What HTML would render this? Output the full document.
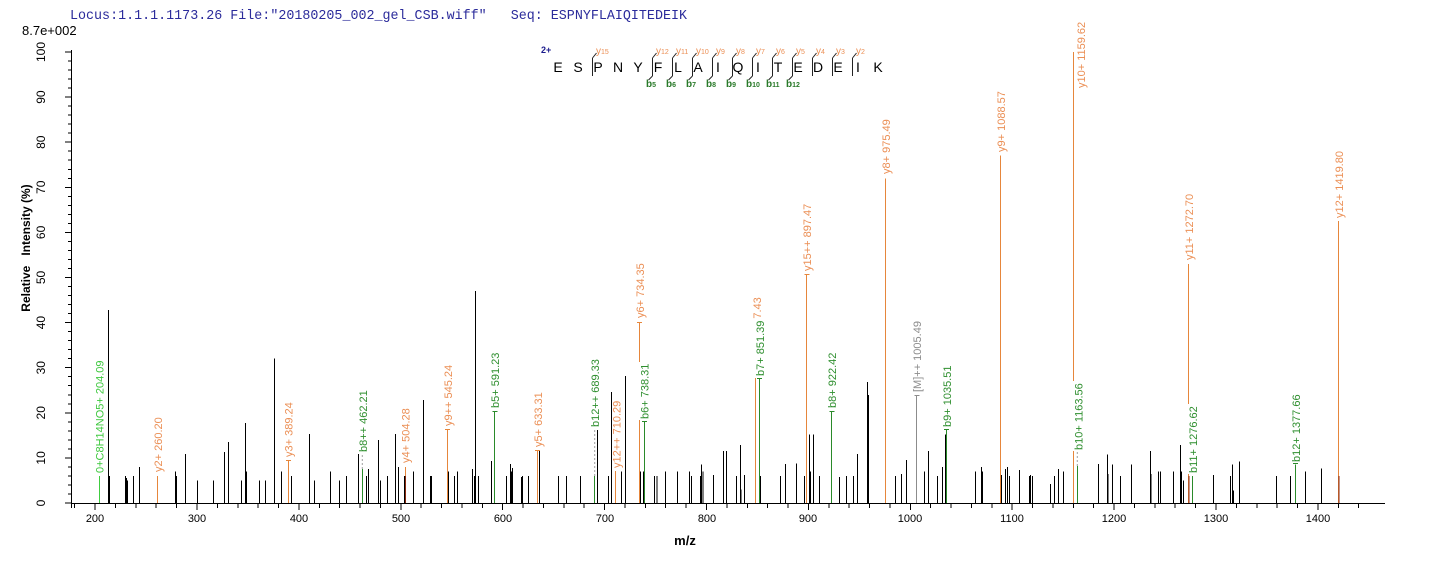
<!DOCTYPE html>
<html><head><meta charset="utf-8"><style>
html,body{margin:0;padding:0;background:#fff;}
svg{display:block;}
.lbl{font-family:"Liberation Sans",Arial,sans-serif;font-size:11px;}
</style></head><body>
<svg width="1436" height="562" viewBox="0 0 1436 562" xmlns="http://www.w3.org/2000/svg" font-family="Liberation Sans, Arial, sans-serif">
<rect width="1436" height="562" fill="#fff"/>
<!-- header -->
<text x="70" y="19" font-family="Liberation Mono, monospace" font-size="14" fill="#2b2b9b" style="white-space:pre" xml:space="preserve" textLength="617" lengthAdjust="spacingAndGlyphs">Locus:1.1.1.1173.26 File:"20180205_002_gel_CSB.wiff"   Seq: ESPNYFLAIQITEDEIK</text>
<text x="22" y="35" font-size="13" fill="#000">8.7e+002</text>

<!-- y axis -->
<g stroke="#000" stroke-width="1" shape-rendering="crispEdges" fill="none">
<path d="M71.5 50V508M71 503.5H1385"/>
<path d="M65 503H71.5M65 457.9H71.5M65 412.8H71.5M65 367.7H71.5M65 322.6H71.5M65 277.5H71.5M65 232.4H71.5M65 187.3H71.5M65 142.2H71.5M65 97.1H71.5M65 52H71.5"/>
<path d="M68 494H71.5M68 485H71.5M68 475.9H71.5M68 466.9H71.5M68 448.9H71.5M68 439.9H71.5M68 430.8H71.5M68 421.8H71.5M68 403.8H71.5M68 394.8H71.5M68 385.7H71.5M68 376.7H71.5M68 358.7H71.5M68 349.7H71.5M68 340.6H71.5M68 331.6H71.5M68 313.6H71.5M68 304.6H71.5M68 295.5H71.5M68 286.5H71.5M68 268.5H71.5M68 259.5H71.5M68 250.4H71.5M68 241.4H71.5M68 223.4H71.5M68 214.4H71.5M68 205.3H71.5M68 196.3H71.5M68 178.3H71.5M68 169.3H71.5M68 160.2H71.5M68 151.2H71.5M68 133.2H71.5M68 124.2H71.5M68 115.1H71.5M68 106.1H71.5M68 88.1H71.5M68 79.1H71.5M68 70H71.5M68 61H71.5"/>
<!-- x ticks -->
<path d="M95.1 503V510M197 503V510M298.9 503V510M400.8 503V510M502.7 503V510M604.6 503V510M706.5 503V510M808.4 503V510M910.3 503V510M1012.2 503V510M1114.1 503V510M1216 503V510M1317.9 503V510"/>
<path d="M74.7 503V508M115.5 503V508M135.9 503V508M156.2 503V508M176.6 503V508M217.4 503V508M237.8 503V508M258.1 503V508M278.5 503V508M319.3 503V508M339.7 503V508M360 503V508M380.4 503V508M421.2 503V508M441.6 503V508M461.9 503V508M482.3 503V508M523.1 503V508M543.5 503V508M563.8 503V508M584.2 503V508M625 503V508M645.4 503V508M665.7 503V508M686.1 503V508M726.9 503V508M747.3 503V508M767.6 503V508M788 503V508M828.8 503V508M849.2 503V508M869.5 503V508M889.9 503V508M930.7 503V508M951.1 503V508M971.4 503V508M991.8 503V508M1032.6 503V508M1053 503V508M1073.3 503V508M1093.7 503V508M1134.5 503V508M1154.9 503V508M1175.2 503V508M1195.6 503V508M1236.4 503V508M1256.8 503V508M1277.1 503V508M1297.5 503V508M1338.3 503V508M1358.7 503V508"/>
</g>
<g font-size="12" fill="#000" text-anchor="middle" dominant-baseline="central">
<text transform="translate(41,503) rotate(-90)">0</text>
<text transform="translate(41,457.9) rotate(-90)">10</text>
<text transform="translate(41,412.8) rotate(-90)">20</text>
<text transform="translate(41,367.7) rotate(-90)">30</text>
<text transform="translate(41,322.6) rotate(-90)">40</text>
<text transform="translate(41,277.5) rotate(-90)">50</text>
<text transform="translate(41,232.4) rotate(-90)">60</text>
<text transform="translate(41,187.3) rotate(-90)">70</text>
<text transform="translate(41,142.2) rotate(-90)">80</text>
<text transform="translate(41,97.1) rotate(-90)">90</text>
<text transform="translate(41,52) rotate(-90)">100</text>
</g>
<text transform="translate(26,248) rotate(-90)" font-size="12" font-weight="bold" text-anchor="middle" dominant-baseline="central" style="white-space:pre" xml:space="preserve">Relative   Intensity (%)</text>
<g font-size="11" fill="#000" text-anchor="middle">
<text x="95" y="522">200</text><text x="197" y="522">300</text><text x="299" y="522">400</text><text x="401" y="522">500</text><text x="503" y="522">600</text><text x="605" y="522">700</text><text x="707" y="522">800</text><text x="808" y="522">900</text><text x="910" y="522">1000</text><text x="1012" y="522">1100</text><text x="1114" y="522">1200</text><text x="1216" y="522">1300</text><text x="1318" y="522">1400</text>
</g>
<text x="685" y="545" font-size="13" font-weight="bold" text-anchor="middle">m/z</text>

<!-- black peaks -->
<path stroke="#000" stroke-width="1" fill="none" shape-rendering="crispEdges" d="M108.3 503V309.8M109.3 503V475.9M125.3 503V475.9M126.3 503V478.2M127.3 503V480.5M133.3 503V475.9M139.3 503V466.9M175.3 503V471.4M176.3 503V475.9M185.3 503V453.8M197.3 503V480.5M213.3 503V480.5M224.3 503V452M228.3 503V442.1M241.3 503V480.5M245.3 503V423.2M246.3 503V471.4M259.3 503V480.5M265.3 503V480.5M274.3 503V358.7M281.3 503V471.4M291.3 503V475.9M309.3 503V434M314.7 503V480.5M330.3 503V471.4M339.3 503V480.5M346.3 503V475.9M358.3 503V453.8M366.3 503V475.9M368.3 503V469.2M378.3 503V439.9M380.3 503V480.5M387.3 503V475.9M395.3 503V434M398.3 503V466.9M404.3 503V475.9M413.3 503V471.4M423.3 503V400.2M430.3 503V475.9M431.3 503V475.9M448.3 503V471.4M454.3 503V475.9M457.3 503V471.4M472.7 503V469.2M474.7 503V475.9M475.7 503V291M478.7 503V475.9M491.7 503V461.1M506.7 503V475.9M510.7 503V464.2M511.7 503V471.4M512.3 503V467.8M521.3 503V476.8M522.3 503V475.9M528.7 503V475.9M539.3 503V451.1M558.3 503V475.9M566.3 503V475.9M580.3 503V475.9M597.3 503V429.9M608.3 503V475.9M611.3 503V392.1M621.3 503V471.4M625.3 503V375.8M640.7 503V471.4M643.3 503V471.4M654.3 503V475.9M657 503V475.9M665.3 503V471.4M677.3 503V471.4M689.3 503V471.4M691.3 503V475.9M700.3 503V475.9M701.3 503V464.7M703 503V471.4M713.3 503V475M723.7 503V451.1M726.3 503V451.1M736.3 503V475.9M740.3 503V444.8M741 503V489.5M744.3 503V475M760.3 503V475.9M780.3 503V475.9M785.3 503V464.2M796.3 503V463.3M804.3 503V475.9M809.3 503V434.4M810.3 503V471.4M813.3 503V434.4M819.3 503V475.9M839.3 503V476.8M846.3 503V475.9M853.3 503V475.9M857.3 503V453.8M867.3 503V382.1M868.3 503V394.8M895.3 503V475.9M901.3 503V474.1M906.3 503V460.2M924.3 503V471.4M928.7 503V451.1M937.3 503V475.9M942.3 503V466.9M945.3 503V434.4M975.7 503V471.4M981.3 503V466.9M982.3 503V471.4M1001.3 503V475M1005.3 503V469.2M1007.3 503V466.9M1009.3 503V475.9M1019.3 503V470.1M1029.3 503V475.9M1030.3 503V475M1032.3 503V475.9M1050.3 503V484.1M1054.3 503V475.9M1058.3 503V469.2M1063.3 503V471.4M1073.7 503V454.3M1098.3 503V464.2M1107.3 503V454.3M1108 503V474.1M1112.3 503V464.7M1120.3 503V475.9M1131.3 503V464.7M1150.3 503V451.1M1151 503V474.1M1158.3 503V471.4M1160.3 503V471.4M1173.3 503V471.4M1180.3 503V444.8M1181.3 503V471.4M1183.3 503V480.5M1213.3 503V475M1230.3 503V475.9M1232.3 503V464.7M1233.3 503V490.4M1239.3 503V461.5M1276.3 503V475.9M1290.3 503V475.9M1305.3 503V471.4M1321.7 503V468.7"/>

<!-- orange (y ion) peaks -->
<path stroke="#e6863b" stroke-width="1" fill="none" shape-rendering="crispEdges" d="M157.3 503V475.9M288.3 503V461.1M405.3 503V466.9M447.3 503V429.9M537.3 503V451.1M615.3 503V471M639.3 503V322.6M755.3 503V378.1M806.7 503V275.2M885.3 503V178.3M1000.7 503V155.7M1073.3 503V52M1188.3 503V264M1338.7 503V221.1"/>
<!-- dark red overlap segments -->
<path stroke="#8a2a10" stroke-width="1" fill="none" shape-rendering="crispEdges" d="M405.3 503V475.9M1188.8 503V476M1339.2 503V476"/>
<!-- green (b ion) peaks -->
<path stroke="#2a8a2a" stroke-width="1" fill="none" shape-rendering="crispEdges" d="M362.3 503V469.2M494.7 503V411.9M594.7 503V475.9M644.3 503V421.8M759.3 503V379M831.7 503V411.9M946.3 503V429.9M1077.3 503V466M1192.3 503V475.9M1295.3 503V464.7"/>
<path stroke="#40cc40" stroke-width="1" fill="none" shape-rendering="crispEdges" d="M99.3 503V475.9"/>
<path stroke="#8c8c8c" stroke-width="1" fill="none" shape-rendering="crispEdges" d="M916.7 503V396.1"/>
<!-- dashed connectors -->
<path stroke="#a0a0a0" stroke-width="1" stroke-dasharray="2,2" fill="none" d="M362.3 469V453M594.7 476V428M1077.3 466V451"/>

<!-- labels -->
<g class="lbl" dominant-baseline="central">
<g transform="translate(100.5,473) rotate(-90)"><rect x="-1" y="-7" width="115" height="14" fill="#fff"/><text fill="#3ec83e">0+C8H14NO5+ 204.09</text></g>
<g transform="translate(159,472) rotate(-90)"><rect x="-1" y="-7" width="57" height="14" fill="#fff"/><text fill="#eb8f55">y2+ 260.20</text></g>
<g transform="translate(289.5,457) rotate(-90)"><rect x="-1" y="-7" width="57" height="14" fill="#fff"/><text fill="#eb8f55">y3+ 389.24</text></g>
<g transform="translate(364,452) rotate(-90)"><rect x="-1" y="-7" width="64" height="14" fill="#fff"/><text fill="#2f8f2f">b8++ 462.21</text></g>
<g transform="translate(406.5,463) rotate(-90)"><rect x="-1" y="-7" width="57" height="14" fill="#fff"/><text fill="#eb8f55">y4+ 504.28</text></g>
<g transform="translate(449,426) rotate(-90)"><rect x="-1" y="-7" width="63" height="14" fill="#fff"/><text fill="#eb8f55">y9++ 545.24</text></g>
<g transform="translate(496,408) rotate(-90)"><rect x="-1" y="-7" width="58" height="14" fill="#fff"/><text fill="#2f8f2f">b5+ 591.23</text></g>
<g transform="translate(539,447) rotate(-90)"><rect x="-1" y="-7" width="57" height="14" fill="#fff"/><text fill="#eb8f55">y5+ 633.31</text></g>
<g transform="translate(596,427) rotate(-90)"><rect x="-1" y="-6" width="70" height="12" fill="#fff"/><text fill="#2f8f2f">b12++ 689.33</text></g>
<g transform="translate(617.5,468) rotate(-90)"><rect x="-1" y="-5" width="69" height="11" fill="#fff"/><text fill="#eb8f55">y12++ 710.29</text></g>
<g transform="translate(641,318) rotate(-90)"><rect x="-1" y="-7" width="57" height="14" fill="#fff"/><text fill="#eb8f55">y6+ 734.35</text></g>
<g transform="translate(645.5,419) rotate(-90)"><rect x="-1" y="-7" width="58" height="14" fill="#fff"/><text fill="#2f8f2f">b6+ 738.31</text></g>
<g transform="translate(758,352) rotate(-90)"><rect x="-1" y="-7" width="57" height="14" fill="#fff"/><text fill="#eb8f55">y7+ 847.43</text></g>
<g transform="translate(761,376) rotate(-90)"><rect x="-1" y="-8" width="58" height="16" fill="#fff"/><text fill="#2f8f2f">b7+ 851.39</text></g>
<g transform="translate(808,271) rotate(-90)"><rect x="-1" y="-7" width="69" height="14" fill="#fff"/><text fill="#eb8f55">y15++ 897.47</text></g>
<g transform="translate(833,408) rotate(-90)"><rect x="-1" y="-7" width="58" height="14" fill="#fff"/><text fill="#2f8f2f">b8+ 922.42</text></g>
<g transform="translate(887,174) rotate(-90)"><rect x="-1" y="-7" width="57" height="14" fill="#fff"/><text fill="#eb8f55">y8+ 975.49</text></g>
<g transform="translate(918,392) rotate(-90)"><rect x="-1" y="-7" width="73" height="14" fill="#fff"/><text fill="#8c8c8c">[M]++ 1005.49</text></g>
<g transform="translate(948,427) rotate(-90)"><rect x="-1" y="-7" width="64" height="14" fill="#fff"/><text fill="#2f8f2f">b9+ 1035.51</text></g>
<g transform="translate(1002,152) rotate(-90)"><rect x="-1" y="-7" width="63" height="14" fill="#fff"/><text fill="#eb8f55">y9+ 1088.57</text></g>
<g transform="translate(1082,88) rotate(-90)"><rect x="-1" y="-6" width="69" height="12" fill="#fff"/><text fill="#eb8f55">y10+ 1159.62</text></g>
<g transform="translate(1079.5,450) rotate(-90)"><rect x="-1" y="-7" width="70" height="14" fill="#fff"/><text fill="#2f8f2f">b10+ 1163.56</text></g>
<g transform="translate(1190,260) rotate(-90)"><rect x="-1" y="-7" width="69" height="14" fill="#fff"/><text fill="#eb8f55">y11+ 1272.70</text></g>
<g transform="translate(1194,473) rotate(-90)"><rect x="-1" y="-7" width="70" height="14" fill="#fff"/><text fill="#2f8f2f">b11+ 1276.62</text></g>
<g transform="translate(1297,462) rotate(-90)"><rect x="-1" y="-7" width="70" height="14" fill="#fff"/><text fill="#2f8f2f">b12+ 1377.66</text></g>
<g transform="translate(1340,218) rotate(-90)"><rect x="-1" y="-7" width="69" height="14" fill="#fff"/><text fill="#eb8f55">y12+ 1419.80</text></g>
</g>
<!-- peak-top dashes -->
<path stroke-width="1" fill="none" shape-rendering="crispEdges" stroke="#2a8a2a" d="M492.5 411.5H497.5M829.5 411.5H834.5M944 429.5H949M757 378.5H762M642 421.5H647M1293 463.5H1298"/>
<path stroke-width="1" fill="none" shape-rendering="crispEdges" stroke="#e6863b" d="M804.5 274.5H809.5M445 429.5H450M286 460.5H291M535 450.5H540M637 322.5H642"/>
<path stroke-width="1" fill="none" shape-rendering="crispEdges" stroke="#8c8c8c" d="M914.5 395.5H919.5"/>

<!-- sequence annotation -->
<text x="541" y="53" font-size="9" font-weight="bold" fill="#1a1a8c">2+</text>
<g font-size="14" fill="#000" text-anchor="middle">
<text x="558" y="72">E</text><text x="578" y="72">S</text><text x="598" y="72">P</text><text x="618" y="72">N</text><text x="638" y="72">Y</text><text x="658" y="72">F</text><text x="678" y="72">L</text><text x="698" y="72">A</text><text x="718" y="72">I</text><text x="738" y="72">Q</text><text x="758" y="72">I</text><text x="778" y="72">T</text><text x="798" y="72">E</text><text x="818" y="72">D</text><text x="838" y="72">E</text><text x="858" y="72">I</text><text x="878" y="72">K</text>
</g>
<g stroke="#222" stroke-width="1" fill="none">
<path d="M592.5 58V76M592.5 58L596.5 53"/>
<path d="M652.5 58V76M652.5 58L656.5 53M652.5 76L648.5 80"/>
<path d="M672.5 58V76M672.5 58L676.5 53M672.5 76L668.5 80"/>
<path d="M692.5 58V76M692.5 58L696.5 53M692.5 76L688.5 80"/>
<path d="M712.5 58V76M712.5 58L716.5 53M712.5 76L708.5 80"/>
<path d="M732.5 58V76M732.5 58L736.5 53M732.5 76L728.5 80"/>
<path d="M752.5 58V76M752.5 58L756.5 53M752.5 76L748.5 80"/>
<path d="M772.5 58V76M772.5 58L776.5 53M772.5 76L768.5 80"/>
<path d="M792.5 58V76M792.5 58L796.5 53M792.5 76L788.5 80"/>
<path d="M812.5 58V76M812.5 58L816.5 53"/>
<path d="M832.5 58V76M832.5 58L836.5 53"/>
<path d="M852.5 58V76M852.5 58L856.5 53"/>
</g>
<g font-size="10" fill="#eb8f55">
<text x="596" y="54">y<tspan font-size="7">15</tspan></text>
<text x="656" y="54">y<tspan font-size="7">12</tspan></text>
<text x="676" y="54">y<tspan font-size="7">11</tspan></text>
<text x="696" y="54">y<tspan font-size="7">10</tspan></text>
<text x="716" y="54">y<tspan font-size="7">9</tspan></text>
<text x="736" y="54">y<tspan font-size="7">8</tspan></text>
<text x="756" y="54">y<tspan font-size="7">7</tspan></text>
<text x="776" y="54">y<tspan font-size="7">6</tspan></text>
<text x="796" y="54">y<tspan font-size="7">5</tspan></text>
<text x="816" y="54">y<tspan font-size="7">4</tspan></text>
<text x="836" y="54">y<tspan font-size="7">3</tspan></text>
<text x="856" y="54">y<tspan font-size="7">2</tspan></text>
</g>
<g font-size="10" fill="#2a7a2a" font-weight="bold">
<text x="646" y="87">b<tspan font-size="7">5</tspan></text>
<text x="666" y="87">b<tspan font-size="7">6</tspan></text>
<text x="686" y="87">b<tspan font-size="7">7</tspan></text>
<text x="706" y="87">b<tspan font-size="7">8</tspan></text>
<text x="726" y="87">b<tspan font-size="7">9</tspan></text>
<text x="746" y="87">b<tspan font-size="7">10</tspan></text>
<text x="766" y="87">b<tspan font-size="7">11</tspan></text>
<text x="786" y="87">b<tspan font-size="7">12</tspan></text>
</g>
</svg>
</body></html>
